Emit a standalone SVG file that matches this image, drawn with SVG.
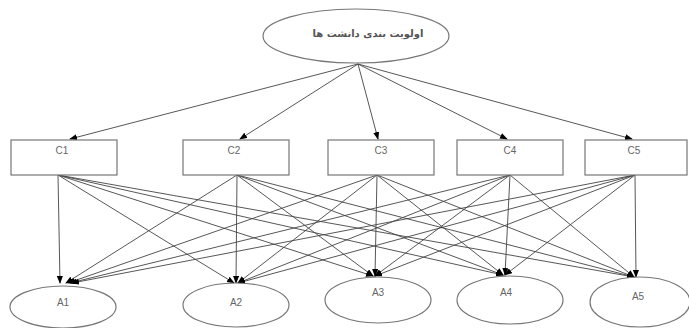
<svg xmlns="http://www.w3.org/2000/svg" width="689" height="328" viewBox="0 0 689 328">
<style>
.n{fill:#fff;stroke:#777;stroke-width:1.2}
.t{font-family:"Liberation Sans",Arial,sans-serif;font-size:10px;fill:#666;text-anchor:middle}
.fa{font-family:"DejaVu Sans","Noto Sans",sans-serif;font-size:10px;font-weight:bold;fill:#555;text-anchor:middle}
#edges line{stroke:#444;stroke-width:0.9;marker-end:url(#ah)}
</style>
<defs>
<marker id="ah" markerWidth="8" markerHeight="6" refX="7" refY="3" orient="auto" markerUnits="userSpaceOnUse">
<path d="M0,0 L8,3 L0,6 Z" fill="#000"/>
</marker>
</defs>
<rect width="689" height="328" fill="#fff"/>
<g id="edges">
<line x1="358" y1="64" x2="70" y2="139"/>
<line x1="358" y1="64" x2="240" y2="139"/>
<line x1="358" y1="64" x2="378" y2="139"/>
<line x1="358" y1="64" x2="507" y2="139"/>
<line x1="358" y1="64" x2="632" y2="139"/>
<line x1="58" y1="175" x2="60" y2="283"/>
<line x1="58" y1="175" x2="234" y2="283"/>
<line x1="58" y1="175" x2="373" y2="276"/>
<line x1="58" y1="175" x2="503" y2="275"/>
<line x1="58" y1="175" x2="634" y2="277"/>
<line x1="237" y1="175" x2="66" y2="283"/>
<line x1="237" y1="175" x2="236" y2="283"/>
<line x1="237" y1="175" x2="373" y2="276"/>
<line x1="237" y1="175" x2="503" y2="275"/>
<line x1="237" y1="175" x2="634" y2="277"/>
<line x1="377" y1="175" x2="68" y2="283"/>
<line x1="377" y1="175" x2="238" y2="283"/>
<line x1="377" y1="175" x2="375" y2="276"/>
<line x1="377" y1="175" x2="503" y2="275"/>
<line x1="377" y1="175" x2="634" y2="277"/>
<line x1="510" y1="175" x2="70" y2="283"/>
<line x1="510" y1="175" x2="238" y2="283"/>
<line x1="510" y1="175" x2="375" y2="276"/>
<line x1="510" y1="175" x2="505" y2="275"/>
<line x1="510" y1="175" x2="634" y2="277"/>
<line x1="635" y1="175" x2="72" y2="283"/>
<line x1="635" y1="175" x2="238" y2="283"/>
<line x1="635" y1="175" x2="375" y2="276"/>
<line x1="635" y1="175" x2="505" y2="275"/>
<line x1="635" y1="175" x2="636" y2="277"/>
</g>
<g id="goal"><ellipse class="n" cx="356" cy="36" rx="93" ry="27"/><text class="fa" x="368" y="37" direction="rtl">اولویت بندی دانشت ها</text></g>
<g id="C1"><rect class="n" x="11" y="140" width="106" height="35"/><text class="t" x="62" y="154">C1</text></g>
<g id="C2"><rect class="n" x="183" y="140" width="106" height="35"/><text class="t" x="234" y="154">C2</text></g>
<g id="C3"><rect class="n" x="328" y="140" width="106" height="35"/><text class="t" x="381" y="154">C3</text></g>
<g id="C4"><rect class="n" x="457" y="140" width="106" height="35"/><text class="t" x="510" y="154">C4</text></g>
<g id="C5"><rect class="n" x="585" y="140" width="102" height="35"/><text class="t" x="634" y="154">C5</text></g>
<g id="A1"><ellipse class="n" cx="63" cy="307" rx="53" ry="21"/><text class="t" x="63" y="306">A1</text></g>
<g id="A2"><ellipse class="n" cx="236" cy="305" rx="53" ry="22"/><text class="t" x="236" y="306">A2</text></g>
<g id="A3"><ellipse class="n" cx="378" cy="300" rx="53" ry="23"/><text class="t" x="378" y="296">A3</text></g>
<g id="A4"><ellipse class="n" cx="510" cy="300" rx="53" ry="24"/><text class="t" x="506" y="296">A4</text></g>
<g id="A5"><ellipse class="n" cx="640" cy="302" rx="50" ry="25"/><text class="t" x="638" y="300">A5</text></g>
</svg>
